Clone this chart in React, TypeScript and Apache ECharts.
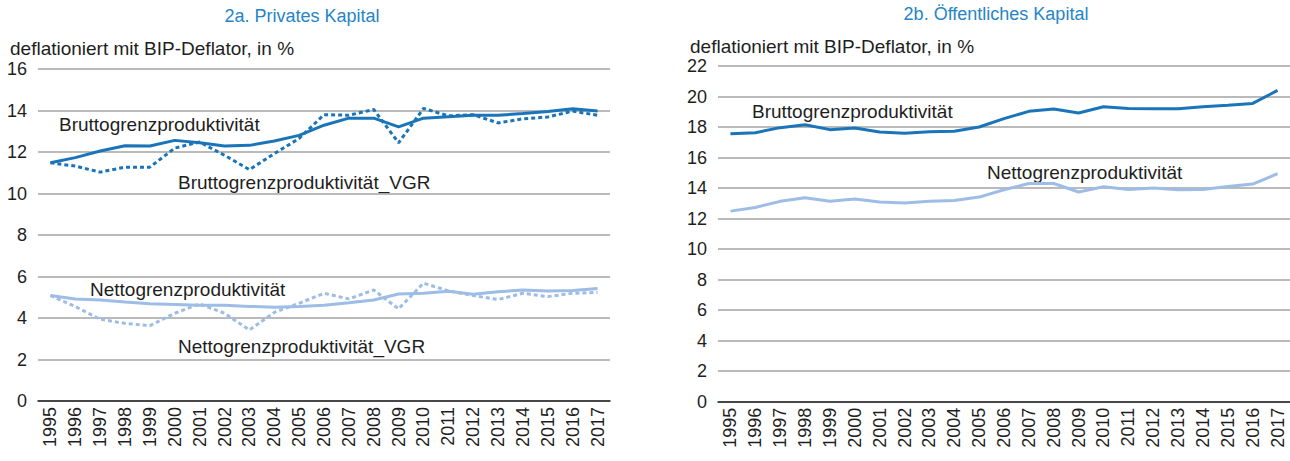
import React, { useEffect, useRef } from "react";
import * as echarts from "echarts";

const years = ["1995","1996","1997","1998","1999","2000","2001","2002","2003","2004","2005","2006","2007","2008","2009","2010","2011","2012","2013","2014","2015","2016","2017"];

// 2a. Privates Kapital
const privBrutto = [11.48,11.73,12.05,12.3,12.29,12.56,12.45,12.29,12.32,12.53,12.8,13.29,13.63,13.63,13.21,13.63,13.7,13.77,13.77,13.85,13.95,14.08,13.98];
const privBruttoVGR = [11.48,11.32,11.03,11.27,11.27,12.19,12.48,11.84,11.15,11.92,12.65,13.8,13.77,14.05,12.44,14.1,13.74,13.8,13.4,13.6,13.69,13.97,13.77];
const privNetto = [5.08,4.92,4.87,4.77,4.69,4.65,4.61,4.61,4.56,4.52,4.55,4.61,4.73,4.87,5.16,5.19,5.29,5.15,5.26,5.35,5.3,5.32,5.42];
const privNettoVGR = [5.08,4.55,3.94,3.74,3.63,4.23,4.68,4.23,3.42,4.27,4.71,5.19,4.92,5.35,4.44,5.68,5.31,5.08,4.89,5.19,5.03,5.19,5.23];

// 2b. Öffentliches Kapital
const oeffBrutto = [17.56,17.63,17.96,18.15,17.83,17.93,17.67,17.6,17.69,17.72,18.0,18.55,19.03,19.18,18.92,19.33,19.22,19.2,19.2,19.33,19.42,19.55,20.4];
const oeffNetto = [12.49,12.73,13.13,13.37,13.13,13.28,13.08,13.02,13.13,13.19,13.41,13.89,14.3,14.3,13.74,14.09,13.91,14.0,13.89,13.91,14.11,14.26,14.94];

const leftTicks = { min: 0, max: 16, interval: 2 };
const rightTicks = { min: 0, max: 22, interval: 2 };

const FONT = "'Liberation Sans', Arial, Helvetica, sans-serif";
const DARK = "#1a74b9";
const LIGHT = "#9dbce6";
const TITLE = "#2585c7";
const TEXT = "#1e1e1e";

export default function App() {
  const ref = useRef<HTMLDivElement>(null);
  useEffect(() => {
    if (!ref.current) return;
    const chart = echarts.init(ref.current, null, { renderer: "svg" });
    const yAxisBase = {
      type: "value" as const,
      axisLine: { show: false },
      axisTick: { show: false },
      axisLabel: { fontSize: 18, color: TEXT, fontFamily: FONT, margin: 11 },
      splitLine: { lineStyle: { color: "#a3a3a3", width: 1.5 } },
    };
    const xAxisBase = {
      type: "category" as const,
      data: years,
      boundaryGap: true,
      axisLine: { show: true, lineStyle: { color: "#222", width: 1.5 } },
      axisTick: { show: false },
      axisLabel: { rotate: 90, fontSize: 18, color: TEXT, fontFamily: FONT, margin: 6, interval: 0 },
    };
    const txt = (x: number, y: number, text: string, opts: any = {}) => ({
      type: "text",
      x,
      y,
      style: {
        text,
        fill: opts.fill || TEXT,
        font: `${opts.size || 19}px ${FONT}`,
        textAlign: opts.align || "left",
        textVerticalAlign: "middle",
      },
    });
    chart.setOption({
      animation: false,
      backgroundColor: "#ffffff",
      grid: [
        { left: 38, right: 680, top: 69, bottom: 60 },
        { left: 718, right: -2, top: 66, bottom: 59.3 },
      ],
      xAxis: [
        { ...xAxisBase, gridIndex: 0 },
        { ...xAxisBase, gridIndex: 1 },
      ],
      yAxis: [
        { ...yAxisBase, gridIndex: 0, ...leftTicks },
        { ...yAxisBase, gridIndex: 1, ...rightTicks },
      ],
      series: [
        { name: "Bruttogrenzproduktivität", type: "line", xAxisIndex: 0, yAxisIndex: 0, data: privBrutto, showSymbol: false, lineStyle: { color: DARK, width: 3 }, z: 3 },
        { name: "Bruttogrenzproduktivität_VGR", type: "line", xAxisIndex: 0, yAxisIndex: 0, data: privBruttoVGR, showSymbol: false, lineStyle: { color: DARK, width: 3, type: [4, 3] }, z: 2 },
        { name: "Nettogrenzproduktivität", type: "line", xAxisIndex: 0, yAxisIndex: 0, data: privNetto, showSymbol: false, lineStyle: { color: LIGHT, width: 3 }, z: 3 },
        { name: "Nettogrenzproduktivität_VGR", type: "line", xAxisIndex: 0, yAxisIndex: 0, data: privNettoVGR, showSymbol: false, lineStyle: { color: LIGHT, width: 3, type: [4, 3] }, z: 2 },
        { name: "Bruttogrenzproduktivität (öffentlich)", type: "line", xAxisIndex: 1, yAxisIndex: 1, data: oeffBrutto, showSymbol: false, lineStyle: { color: DARK, width: 3 } },
        { name: "Nettogrenzproduktivität (öffentlich)", type: "line", xAxisIndex: 1, yAxisIndex: 1, data: oeffNetto, showSymbol: false, lineStyle: { color: LIGHT, width: 3 } },
      ],
      graphic: [
        txt(302, 16, "2a. Privates Kapital", { fill: TITLE, size: 18, align: "center" }),
        txt(996, 14, "2b. Öffentliches Kapital", { fill: TITLE, size: 18, align: "center" }),
        txt(10, 48, "deflationiert mit BIP-Deflator, in %"),
        txt(690, 46, "deflationiert mit BIP-Deflator, in %"),
        txt(59, 124, "Bruttogrenzproduktivität"),
        txt(178, 182, "Bruttogrenzproduktivität_VGR"),
        txt(90, 289, "Nettogrenzproduktivität"),
        txt(178, 346, "Nettogrenzproduktivität_VGR"),
        txt(752, 111, "Bruttogrenzproduktivität"),
        txt(987, 172, "Nettogrenzproduktivität"),
      ],
    });
    return () => chart.dispose();
  }, []);
  return (
    <div
      ref={ref}
      style={{ position: "fixed", left: 0, top: 0, width: 1290, height: 461, background: "#fff" }}
    />
  );
}
